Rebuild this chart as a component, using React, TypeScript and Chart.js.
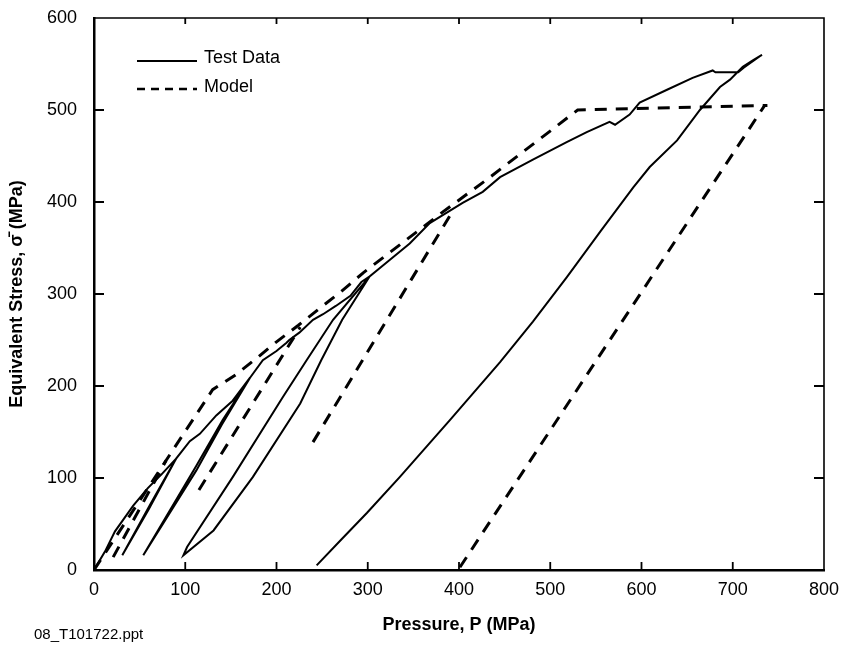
import React, { useEffect, useRef } from 'react';
import { Chart, registerables } from 'chart.js';

Chart.register(...registerables);

// ---- tick values ----
const xTickValues = [0, 100, 200, 300, 400, 500, 600, 700, 800];
const yTickValues = [0, 100, 200, 300, 400, 500, 600];

// ---- labels ----
const xTitle = 'Pressure, P (MPa)';
const yTitle = 'Equivalent Stress, \u03C3\u0304 (MPa)';
const legendLabels = ['Test Data', 'Model'];
const footnote = '08_T101722.ppt';

// ---- Test data (one continuous record with unload/reload loops) ----
const testP = [0, 12, 23, 43, 59, 74, 90, 60, 31, 61, 90, 105, 116, 134, 152, 171, 140, 112, 54, 112, 141, 171,
  185, 200, 211, 214, 225, 240, 251, 265, 281, 293, 302, 272, 249, 226, 174, 131, 98, 102, 152, 207, 233, 262, 302,
  324, 346, 368, 404, 426, 445, 481, 518, 540, 565, 571, 587, 598, 628, 656, 678, 681, 706, 712, 732,
  722, 711, 697, 686, 664, 639, 609, 591, 555, 518, 481, 445, 390, 335, 299, 270, 244];
const testS = [0, 20, 42, 70, 89, 104, 121, 66, 16, 70, 121, 140, 148, 168, 184, 209, 158, 108, 16, 113, 163, 209,
  228, 238, 247, 250, 258, 272, 278, 287, 298, 313, 319, 272, 228, 181, 101, 43, 16, 25, 101, 188, 228, 272, 319,
  337, 355, 377, 399, 411, 427, 446, 465, 476, 487, 484, 495, 508, 522, 535, 543, 541, 541, 546, 560,
  554, 547, 533, 525, 500, 467, 438, 416, 368, 318, 270, 226, 163, 101, 62, 32, 5];

// ---- Model (dashed) ----
const modelLoadP = [0, 130, 155, 178, 200, 224, 248, 270, 295, 382, 430, 530, 738];
const modelLoadS = [0, 196, 212, 230, 248, 266, 285, 302, 323, 389, 424, 500, 505];
const modelUnload1P = [21, 79];
const modelUnload1S = [14, 119];
const modelUnload2P = [115, 226];
const modelUnload2S = [87, 264];
const modelUnload3P = [240, 393];
const modelUnload3S = [139, 390];
const modelUnload4P = [401, 735];
const modelUnload4S = [3, 505];

const FONT = "'Liberation Sans', Arial, Helvetica, sans-serif";

const zip = (p: number[], s: number[]) => p.map((v, i) => ({ x: v, y: s[i] }));

const SOLID_W = 2;
const DASH_W = 3;
const DASH = [12, 9];

const framePlugin = {
  id: 'frameTicksLegend',
  afterDatasetsDraw(chart: any) {
    const { ctx, chartArea: a, scales } = chart;
    const x = scales.x;
    const y = scales.y;
    ctx.save();
    ctx.strokeStyle = '#000';
    ctx.setLineDash([]);
    // top and right border
    ctx.lineWidth = 1.6;
    ctx.beginPath();
    ctx.moveTo(a.left, a.top);
    ctx.lineTo(a.right, a.top);
    ctx.lineTo(a.right, a.bottom);
    ctx.stroke();
    // inward ticks
    ctx.lineWidth = 1.8;
    ctx.beginPath();
    xTickValues.forEach((v) => {
      const px = x.getPixelForValue(v);
      if (px <= a.left + 1 || px >= a.right - 1) return;
      ctx.moveTo(px, a.bottom);
      ctx.lineTo(px, a.bottom - 8);
      ctx.moveTo(px, a.top);
      ctx.lineTo(px, a.top + 6);
    });
    yTickValues.forEach((v) => {
      const py = y.getPixelForValue(v);
      if (py <= a.top + 1 || py >= a.bottom - 1) return;
      ctx.moveTo(a.left, py);
      ctx.lineTo(a.left + 10, py);
      ctx.moveTo(a.right, py);
      ctx.lineTo(a.right - 10, py);
    });
    ctx.stroke();

    // legend inside plot
    const lx0 = 137, lx1 = 197, tx = 204;
    ctx.lineWidth = SOLID_W;
    ctx.beginPath();
    ctx.moveTo(lx0, 61);
    ctx.lineTo(lx1, 61);
    ctx.stroke();
    ctx.lineWidth = DASH_W - 0.5;
    ctx.setLineDash([8, 6]);
    ctx.beginPath();
    ctx.moveTo(lx0, 89);
    ctx.lineTo(lx1, 89);
    ctx.stroke();
    ctx.setLineDash([]);
    ctx.fillStyle = '#000';
    ctx.font = `18px ${FONT}`;
    ctx.textBaseline = 'middle';
    ctx.textAlign = 'left';
    ctx.fillText(legendLabels[0], tx, 58);
    ctx.fillText(legendLabels[1], tx, 87);
    ctx.restore();
  },
};

export default function App() {
  const ref = useRef<HTMLCanvasElement | null>(null);

  useEffect(() => {
    if (!ref.current) return;
    const modelStyle = {
      borderColor: '#000',
      borderWidth: DASH_W,
      borderDash: DASH,
      pointRadius: 0,
      showLine: true,
      fill: false,
      tension: 0,
    };
    const chart = new Chart(ref.current, {
      type: 'scatter',
      data: {
        datasets: [
          {
            label: legendLabels[0],
            data: zip(testP, testS),
            borderColor: '#000',
            borderWidth: SOLID_W,
            pointRadius: 0,
            showLine: true,
            fill: false,
            tension: 0,
          },
          { label: legendLabels[1], data: zip(modelLoadP, modelLoadS), ...modelStyle },
          { label: legendLabels[1], data: zip(modelUnload1P, modelUnload1S), ...modelStyle },
          { label: legendLabels[1], data: zip(modelUnload2P, modelUnload2S), ...modelStyle },
          { label: legendLabels[1], data: zip(modelUnload3P, modelUnload3S), ...modelStyle },
          { label: legendLabels[1], data: zip(modelUnload4P, modelUnload4S), ...modelStyle },
        ],
      },
      options: {
        animation: false,
        responsive: false,
        layout: { padding: { top: 18, right: 20, left: 0, bottom: 0 } },
        plugins: {
          legend: { display: false },
          tooltip: { enabled: false },
        },
        scales: {
          x: {
            type: 'linear',
            min: 0,
            max: 800,
            afterBuildTicks: (s: any) => {
              s.ticks = xTickValues.map((v) => ({ value: v }));
            },
            afterFit: (s: any) => {
              s.height = 75;
              s.paddingLeft = 0;
              s.paddingRight = 0;
            },
            grid: { display: false, drawTicks: false },
            border: { display: true, color: '#000', width: 2.5 },
            ticks: { color: '#000', font: { family: FONT, size: 18 }, padding: 9, maxRotation: 0 },
            title: {
              display: true,
              text: xTitle,
              color: '#000',
              font: { family: FONT, size: 18, weight: 'bold' },
              padding: { top: 0, bottom: 9 },
            },
          },
          y: {
            type: 'linear',
            min: 0,
            max: 600,
            afterBuildTicks: (s: any) => {
              s.ticks = yTickValues.map((v) => ({ value: v }));
            },
            afterFit: (s: any) => {
              s.width = 94;
              s.paddingTop = 0;
              s.paddingBottom = 0;
            },
            grid: { display: false, drawTicks: false },
            border: { display: true, color: '#000', width: 2.5 },
            ticks: { color: '#000', font: { family: FONT, size: 18 }, padding: 17 },
            title: {
              display: true,
              text: yTitle,
              color: '#000',
              font: { family: FONT, size: 18, weight: 'bold' },
              padding: { top: 6, bottom: 0 },
            },
          },
        },
      } as any,
      plugins: [framePlugin],
    });
    return () => chart.destroy();
  }, []);

  return (
    <div style={{ position: 'absolute', left: 0, top: 0, width: 844, height: 645, background: '#fff' }}>
      <canvas ref={ref} width={844} height={645} style={{ display: 'block', width: 844, height: 645 }} />
      <span
        style={{
          position: 'absolute',
          left: 34,
          top: 625,
          fontFamily: FONT,
          fontSize: 15,
          color: '#000',
          lineHeight: '18px',
          whiteSpace: 'nowrap',
        }}
      >
        {footnote}
      </span>
    </div>
  );
}
